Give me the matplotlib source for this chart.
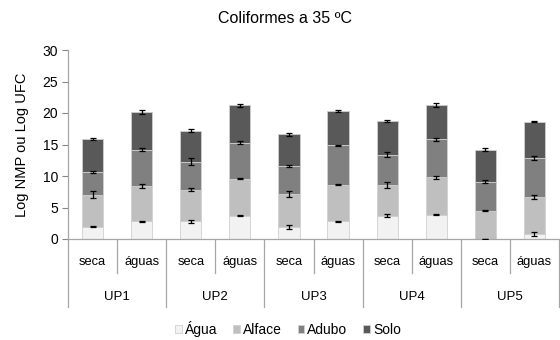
import numpy as np
import matplotlib.pyplot as plt
from matplotlib.transforms import blended_transform_factory

plt.rcParams['font.family'] = ['Liberation Sans', 'DejaVu Sans']

# sampling points (two seasons per production unit)
units = ['UP1', 'UP2', 'UP3', 'UP4', 'UP5']
seasons = ['seca', 'águas']

# mean log counts per compartment, one value per unit/season
agua = [1.95, 2.8, 2.8, 3.7, 1.95, 2.8, 3.7, 3.85, 0.0, 0.85]
alface = [5.1, 5.6, 5.05, 5.85, 5.2, 5.85, 4.85, 5.95, 4.5, 5.8]
adubo = [3.6, 5.8, 4.45, 5.75, 4.4, 6.25, 4.85, 6.0, 4.6, 6.25]
solo = [5.25, 6.0, 4.9, 5.9, 5.05, 5.4, 5.3, 5.5, 5.1, 5.7]

# standard deviations
agua_sd = [0.1, 0.1, 0.2, 0.1, 0.3, 0.1, 0.2, 0.1, 0.0, 0.3]
alface_sd = [0.5, 0.3, 0.2, 0.1, 0.5, 0.1, 0.5, 0.2, 0.1, 0.3]
adubo_sd = [0.1, 0.2, 0.5, 0.2, 0.2, 0.1, 0.4, 0.2, 0.2, 0.3]
solo_sd = [0.2, 0.3, 0.2, 0.2, 0.2, 0.1, 0.2, 0.3, 0.2, 0.1]

series = [
    ('Água', agua, agua_sd, '#f2f2f2'),
    ('Alface', alface, alface_sd, '#bfbfbf'),
    ('Adubo', adubo, adubo_sd, '#808080'),
    ('Solo', solo, solo_sd, '#595959'),
]

fig = plt.figure(figsize=(5.6, 3.4), dpi=100)
ax = fig.add_axes([68 / 560, 101 / 340, 491 / 560, 189 / 340])

x = np.arange(len(units) * len(seasons))
bottom = np.zeros(len(x))
handles = []
for name, vals, sd, color in series:
    vals = np.array(vals)
    b = ax.bar(x, vals, width=0.43, bottom=bottom, color=color,
               edgecolor='#d0d0d0', linewidth=0.6, label=name, zorder=2)
    handles.append(b)
    top = bottom + vals
    ax.errorbar(x, top, yerr=sd, fmt='none', ecolor='black',
                elinewidth=0.9, capsize=2.5, capthick=0.9, zorder=3)
    bottom = top

ax.set_xlim(-0.5, len(x) - 0.5)
ax.set_ylim(0, 30)
ax.set_yticks(range(0, 31, 5))
ax.tick_params(axis='y', length=4, width=0.8, color='#868686',
               labelsize=10, pad=3)
ax.set_xticks([])
for s in ['top', 'right']:
    ax.spines[s].set_visible(False)
for s in ['left', 'bottom']:
    ax.spines[s].set_color('#a6a6a6')
    ax.spines[s].set_linewidth(0.9)

ax.set_ylabel('Log NMP ou Log UFC', fontsize=10.5, labelpad=10)

# two-level category axis
trans = blended_transform_factory(ax.transData, ax.transAxes)
for i in range(len(x) + 1):
    edge = i - 0.5
    y_end = -0.36 if i % 2 == 0 else -0.18
    ax.plot([edge, edge], [0, y_end], color='#a6a6a6', lw=0.9,
            transform=trans, clip_on=False)
for i in x:
    ax.text(i, -0.12, seasons[i % 2], transform=trans, ha='center',
            va='center', fontsize=9.3)
for j, u in enumerate(units):
    ax.text(2 * j + 0.5, -0.305, u, transform=trans, ha='center',
            va='center', fontsize=9.5)

fig.text(0.509, 0.947, 'Coliformes a 35 ºC', ha='center', va='center',
         fontsize=11.5)
fig.legend(handles=handles, loc='center', bbox_to_anchor=(0.514, 11 / 340),
           ncol=4, frameon=False, fontsize=10, handlelength=0.5,
           handleheight=0.5, handletextpad=0.2, columnspacing=1.15)

fig.savefig('out.png', dpi=100)
